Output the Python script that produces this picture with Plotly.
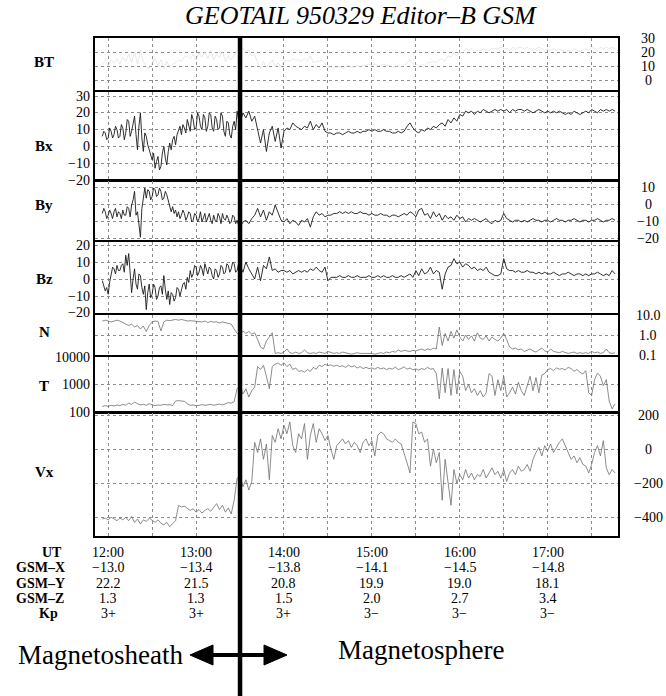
import numpy as np
import plotly.graph_objects as go

W, H = 666, 696

# ---------------- data ----------------
# minutes after 12:00 UT
t_min = np.arange(-4, 347, 2)                                            # plasma / BT samples (2 min)
t_bfield = np.concatenate([np.arange(-4, 90, 1), np.arange(90, 347, 2)])  # B components (1 min in sheath)

bt = [12, 14, 11, 15, 13, 16, 12, 17, 14, 19, 13, 21, 12, 22, 14,
      10, 9, 13, 16, 11, 15, 9, 14, 10, 12, 13, 15, 14, 17, 18,
      16, 19, 15, 20, 17, 21, 16, 22, 15, 19, 17, 21, 14, 18, 15,
      18, 22, 20, 23, 21, 22, 18, 19, 13, 9, 14, 10, 12, 15, 10,
      13, 10, 14, 15, 14, 16, 15, 15, 14, 16, 14, 18, 13, 14, 14,
      15, 12, 10, 10, 9, 10, 10, 9, 10, 11, 10, 10, 11, 10, 11,
      11, 12, 11, 12, 11, 11, 12, 11, 11, 10, 10, 11, 10, 11, 13,
      15, 12, 12, 10, 12, 11, 13, 13, 14, 13, 15, 16, 14, 18, 17,
      20, 18, 21, 20, 23, 22, 23, 21, 22, 22, 23, 22, 22, 23, 23,
      23, 24, 23, 23, 22, 24, 23, 24, 24, 23, 24, 23, 22, 23, 24,
      23, 22, 23, 22, 23, 22, 23, 22, 21, 22, 21, 23, 22, 21, 22,
      23, 22, 24, 23, 22, 24, 23, 24, 23, 24, 23]

bx = [6, 9, 8, 4, 5, 11, 9, 5, 7, 12,
      10, 5, 6, 13, 11, 4, 8, 16, 15, 6,
      9, 14, 18, 7, -2, 12, 20, 5, -3, 8,
      6, 1, -2, -5, -8, -4, -13, -9, -6, -14,
      -12, -4, 0, -7, -11, -3, 2, -2, 4, 6,
      1, 7, 9, 12, 7, 13, 11, 8, 16, 12,
      9, 19, 16, 10, 11, 20, 18, 12, 10, 19,
      17, 9, 12, 20, 19, 11, 9, 18, 16, 10,
      11, 20, 18, 9, 6, 15, 14, 7, 5, 12,
      15, 10, 21, 16,
      14, 20, 17, 21, 15, 18, 9, 2, 10, -3, 8, 12, 3,
      11, -1, 9, 11, 10, 14, 12, 11, 10, 12, 11, 15, 10, 13, 11,
      14, 9, 8, 8, 7, 8, 8, 7, 8, 9, 8, 8, 9, 8, 9,
      9, 10, 9, 10, 9, 9, 10, 9, 9, 8, 8, 9, 8, 9, 12,
      14, 11, 9, 8, 10, 9, 11, 10, 12, 11, 13, 14, 12, 16, 14,
      17, 15, 19, 18, 21, 20, 21, 19, 21, 20, 22, 21, 20, 21, 22,
      21, 22, 21, 22, 20, 22, 21, 22, 22, 21, 22, 21, 20, 21, 22,
      21, 20, 21, 20, 21, 20, 21, 20, 19, 20, 19, 21, 20, 19, 20,
      21, 20, 22, 21, 20, 22, 21, 22, 21, 22, 21]

by = [-5, -2, -4, -8, -6, -3, -5, -8, -4, -2,
      -7, -4, -5, -8, -3, -6, -6, -1, -2, -7,
      0, 3, 8, -6, -4, -10, -19, -2, 6, 10,
      4, 9, 8, 3, 5, 10, 9, 5, 6, 10,
      8, 3, 4, 8, 6, 2, 0, -4, -1, -5,
      -3, -7, -4, -8, -6, -3, -5, -9, -7, -4,
      -5, -10, -9, -5, -6, -10, -8, -4, -10, -7,
      -5, -10, -8, -5, -9, -11, -6, -9, -10, -5,
      -7, -11, -5, -8, -9, -6, -8, -11, -10, -6,
      -7, -11, -9, -12,
      -13, -10, -9, -11, -8, -6, -2, -7, -3, -9, -4, -6, 0,
      -5, -9, -10, -8, -11, -9, -10, -12, -9, -10, -8, -13, -7, -4, -6,
      -5, -7, -6, -6, -5, -5, -4, -5, -4, -5, -4, -5, -5, -4, -5,
      -5, -6, -5, -6, -6, -5, -6, -6, -7, -6, -6, -7, -6, -5, -6,
      -4, -5, -7, -3, -2, -6, -5, -8, -4, -7, -5, -9, -6, -8, -7,
      -9, -6, -8, -7, -10, -8, -9, -8, -9, -10, -9, -8, -10, -11, -9,
      -10, -9, -5, -8, -9, -10, -9, -9, -10, -9, -10, -9, -8, -9, -9,
      -10, -9, -9, -10, -9, -8, -9, -9, -10, -9, -9, -8, -9, -10, -9,
      -9, -10, -9, -9, -8, -9, -10, -9, -9, -8, -9]

bz = [-1, -4, -7, -5, -9, -2, 3, 7, 6, 3,
      8, 5, 5, 8, 9, 4, 14, 8, 15, 2,
      -8, 0, 6, -3, -6, 3, 2, -5, -9, -4,
      -18, -8, -3, -11, -9, -3, -5, -12, -10, -5,
      -4, -9, 2, -6, -12, -7, -15, -8, -9, -13,
      -11, -5, -6, -10, -7, -3, -2, -6, 1, -2,
      5, 1, 3, 8, 7, 2, 4, 8, 6, 2,
      9, 5, 3, 7, 6, 2, 0, 6, 5, 1,
      3, 8, 7, 3, 4, 9, 8, 4, 6, 10,
      9, 4, 5, 9,
      8, 4, 10, 6, 3, 0, 7, -1, 8, 6, 13, 5, 6,
      4, 5, 5, 4, 5, 3, 4, 5, 4, 5, 4, 6, 5, 7, 5,
      4, 7, -1, 1, 1, 1, 2, 1, 1, 2, 1, 1, 2, 1, 1,
      1, 2, 1, 1, 2, 1, 2, 1, 1, 2, 1, 1, 2, 1, 2,
      3, 1, 5, 2, 6, 3, 4, 7, 3, 5, 4, -6, 3, 7, 8,
      12, 9, 10, 7, 9, 8, 6, 7, 5, 6, 5, 7, 4, 3, 2,
      2, 3, 12, 6, 5, 5, 4, 5, 4, 4, 5, 4, 4, 3, 4,
      3, 4, 3, 3, 4, 3, 2, 3, 3, 4, 3, 2, 3, 3, 2,
      3, 2, 3, 3, 4, 3, 2, 3, 2, 5, 3]

dens = [5, 5.5, 5, 4.5, 5, 5.5, 5, 4, 3.5, 3, 3.5, 2.5, 3, 2, 2.8,
        1.5, 3, 4.5, 5, 4.8, 1.6, 4.5, 5.5, 5.2, 5.8, 6, 5.5, 6, 5.5, 5,
        5.2, 5, 4.8, 5, 4.5, 5, 4.2, 4.8, 4.4, 4.6, 4, 4.5, 4.2, 3.8, 3.5,
        2, 1.2, 1.0, 1.6, 1.2, 1.5, 1.1, 1.3, 0.6, 0.25, 0.2, 0.5, 0.8, 1.3, 0.12,
        0.13, 0.12, 0.14, 0.2, 0.13, 0.12, 0.14, 0.12, 0.13, 0.18, 0.13, 0.12, 0.13, 0.12, 0.14,
        0.13, 0.12, 0.15, 0.13, 0.12, 0.13, 0.12, 0.14, 0.13, 0.12, 0.11, 0.12, 0.13, 0.12, 0.12,
        0.12, 0.13, 0.12, 0.11, 0.12, 0.13, 0.12, 0.14, 0.13, 0.15, 0.14, 0.18, 0.15, 0.17, 0.16,
        0.15, 0.17, 0.16, 0.18, 0.2, 0.17, 0.2, 0.18, 0.22, 0.2, 2.5, 0.3, 1.2, 0.5, 1.5,
        0.7, 1.8, 0.8, 0.5, 1.0, 0.6, 0.9, 0.5, 1.3, 0.7, 0.6, 0.9, 0.5, 0.8, 0.6,
        0.5, 0.7, 1.2, 0.6, 0.25, 0.2, 0.22, 0.18, 0.2, 0.15, 0.17, 0.2, 0.16, 0.14, 0.18,
        0.22, 0.16, 0.14, 0.2, 0.15, 0.14, 0.13, 0.15, 0.14, 0.12, 0.13, 0.14, 0.12, 0.13, 0.12,
        0.13, 0.12, 0.15, 0.13, 0.14, 0.12, 0.13, 0.2, 0.13, 0.12, 0.13]

temp = [160, 170, 160, 175, 165, 180, 170, 190, 175, 210, 190, 230, 200, 180, 190,
        175, 200, 185, 170, 180, 175, 190, 180, 185, 170, 250, 260, 250, 245, 200,
        175, 180, 170, 175, 185, 175, 180, 190, 175, 185, 195, 180, 200, 220, 210,
        240, 700, 900, 450, 700, 350, 600, 800, 4500, 3500, 5000, 2000, 700, 4500, 5500,
        6000, 5000, 6200, 4500, 5500, 3500, 4000, 3000, 3200, 2800, 3500, 3000, 4200, 3600, 5000,
        4500, 5500, 4800, 5200, 4600, 5000, 4500, 4800, 4200, 5000, 4400, 4800, 4000, 4500, 3800,
        4200, 3800, 4000, 3600, 4200, 3700, 4000, 3500, 3900, 3600, 4300, 3500, 3800, 4400, 3600,
        4000, 3400, 3700, 3300, 3800, 3500, 4200, 3600, 3800, 2500, 300, 4000, 500, 3800, 400,
        3500, 450, 3000, 2000, 600, 1000, 500, 700, 400, 600, 350, 500, 2500, 2000, 400,
        1500, 600, 2000, 350, 500, 800, 450, 1200, 600, 400, 900, 2000, 600, 1800, 500,
        2200, 2500, 3500, 3800, 3200, 4000, 3600, 3800, 3400, 4200, 3800, 3000, 3500, 2800, 2400,
        3200, 500, 400, 1500, 2600, 2000, 900, 1500, 250, 130, 200]

vx = [-410, -405, -415, -400, -410, -420, -405, -415, -400, -420, -395, -430, -410, -440, -415,
      -425, -405, -420, -430, -415, -435, -445, -430, -455, -440, -420, -330, -340, -335, -345,
      -360, -350, -370, -355, -375, -360, -350, -365, -340, -320, -355, -330, -370, -345, -380,
      -300, -170, -160, -220, -180, -240, -190, 40, -20, 60, -60, 30, -180, 80, 40,
      120, 60, 140, 90, 160, 20, -20, 90, 60, 150, -60, 80, 150, 40, 120,
      90, 50, 80, 0, -60, 20, 40, 60, 30, 50, 10, 40, 20, -20, 40,
      60, 20, 50, -40, 80, 100, 90, 60, 50, 40, 60, 40, 30, -20, -80,
      -140, 160, 150, 90, 100, 40, 60, -100, 0, -80, -20, -300, -60, -200, -330,
      -120, -200, -150, -180, -120, -170, -140, -180, -150, -160, -120, -170, -140, -110, -150,
      -130, -170, -120, -190, -140, -120, -150, -100, -130, -120, -90, -130, -60, -20, 10,
      -40, 20, -10, 30, -20, 10, 40, 60, 20, -30, -60, -40, -80, -50, -90,
      -100, -140, -90, -20, 20, -40, 50, -110, -150, -120, -140]

panel_names = ["BT", "Bx", "By", "Bz", "N", "T", "Vx"]

bt_ticks = [0, 10, 20, 30]
bx_ticks = [-20, -10, 0, 10, 20, 30]
by_ticks = [-20, -10, 0, 10]
bz_ticks = [-20, -10, 0, 10, 20]
n_ticks = [0.1, 1.0, 10.0]
n_tick_text = ["0.1", "1.0", "10.0"]
t_ticks = [100, 1000, 10000]
vx_ticks = [-400, -200, 0, 200]

ut_labels = ["12:00", "13:00", "14:00", "15:00", "16:00", "17:00"]
ut_minutes = [0, 60, 120, 180, 240, 300]
gsm_x = ["−13.0", "−13.4", "−13.8", "−14.1", "−14.5", "−14.8"]
gsm_y = ["22.2", "21.5", "20.8", "19.9", "19.0", "18.1"]
gsm_z = ["1.3", "1.3", "1.5", "2.0", "2.7", "3.4"]
kp = ["3+", "3+", "3+", "3−", "3−", "3−"]
crossing_minute = 90

# ---------------- layout helpers ----------------
FONT = "Liberation Serif"


def pxx(p):
    return p / W


def pyy(p):
    return 1 - p / H


def fmt(v):
    s = str(int(v)) if float(v).is_integer() else str(v)
    return s.replace("-", "−")


# (time, values, pixel top, pixel bottom, range, log?, ticks, tick text, side, colour, width)
panels = [
    (t_min, bt, 38, 90, [-6.5, 30.7], False, bt_ticks, None, "right", "#d9d9d9", 0.6),
    (t_bfield, bx, 92, 180, [-20, 32.4], False, bx_ticks, None, "left", "#1a1a1a", 0.9),
    (t_bfield, by, 181, 240, [-20.6, 14.1], False, by_ticks, None, "right", "#1a1a1a", 0.9),
    (t_bfield, bz, 242, 313, [-20, 21.8], False, bz_ticks, None, "left", "#1a1a1a", 0.9),
    (t_min, dens, 315, 355, [-1, 1], True, n_ticks, n_tick_text, "right", "#6e6e6e", 0.8),
    (t_min, temp, 357, 412, [2, 4], True, t_ticks, None, "left", "#6e6e6e", 0.8),
    (t_min, vx, 413, 536, [-510, 212], False, vx_ticks, None, "right", "#6e6e6e", 0.8),
]
label_y = [62, 146, 205, 279, 332, 386, 472]

fig = go.Figure()
annotations = []
layout = dict(
    width=W, height=H, margin=dict(l=0, r=0, t=0, b=0),
    paper_bgcolor="white", plot_bgcolor="white", showlegend=False,
    font=dict(family=FONT, color="black"),
)

for i, (tt, vals, top, bot, rng, islog, ticks, ttext, side, col, lw) in enumerate(panels, start=1):
    xid = "x" if i == 1 else f"x{i}"
    yid = "y" if i == 1 else f"y{i}"
    xname = "xaxis" if i == 1 else f"xaxis{i}"
    yname = "yaxis" if i == 1 else f"yaxis{i}"
    fig.add_trace(go.Scatter(x=tt, y=vals, mode="lines", xaxis=xid, yaxis=yid,
                             line=dict(color=col, width=lw), hoverinfo="skip"))
    layout[xname] = dict(domain=[pxx(95), pxx(618)], range=[-9, 348], anchor=yid,
                         tickmode="linear", tick0=0, dtick=30, showgrid=True,
                         gridcolor="#8c8c8c", griddash="dot", gridwidth=1,
                         showticklabels=False, ticks="", showline=True, mirror=True,
                         linecolor="black", linewidth=1.6, zeroline=False)
    layout[yname] = dict(domain=[pyy(bot), pyy(top)], range=rng, anchor=xid,
                         type="log" if islog else "linear",
                         tickmode="array", tickvals=ticks, showticklabels=False, ticks="",
                         showgrid=True, gridcolor="#8c8c8c", griddash="dot", gridwidth=1,
                         showline=True, mirror=True, linecolor="black", linewidth=1.6,
                         zeroline=False)
    texts = ttext if ttext else [fmt(v) for v in ticks]
    for v, s in zip(ticks, texts):
        yv = np.log10(v) if islog else v
        if side == "left":
            annotations.append(dict(x=pxx(92), y=yv, xref="paper", yref=yid, text=s,
                                    showarrow=False, xanchor="right", yanchor="middle",
                                    font=dict(size=14, family=FONT, color="black")))
        else:
            annotations.append(dict(x=pxx(648), y=yv, xref="paper", yref=yid, text=s,
                                    showarrow=False, xanchor="center", yanchor="middle",
                                    font=dict(size=14, family=FONT, color="black")))
    annotations.append(dict(x=pxx(44), y=pyy(label_y[i - 1]), xref="paper", yref="paper",
                            text=f"<b>{panel_names[i - 1]}</b>", showarrow=False,
                            xanchor="center", yanchor="middle",
                            font=dict(size=15, family=FONT, color="black")))

# title
annotations.append(dict(x=pxx(361), y=pyy(16), xref="paper", yref="paper",
                        text="<i>GEOTAIL 950329 Editor–B GSM</i>", showarrow=False,
                        xanchor="center", yanchor="middle",
                        font=dict(size=26, family=FONT, color="black")))

# table under the plot
rows = [("UT", ut_labels, 552, 52), ("GSM–X", gsm_x, 567, 40), ("GSM–Y", gsm_y, 583, 40),
        ("GSM–Z", gsm_z, 598, 40), ("Kp", kp, 613, 48)]
for name, vals, ypix, xl in rows:
    annotations.append(dict(x=pxx(xl), y=pyy(ypix), xref="paper", yref="paper",
                            text=f"<b>{name}</b>", showarrow=False, xanchor="center",
                            yanchor="middle", font=dict(size=14, family=FONT, color="black")))
    for m, s in zip(ut_minutes, vals):
        annotations.append(dict(x=m, y=pyy(ypix), xref="x7", yref="paper", text=s,
                                showarrow=False, xanchor="center", yanchor="middle",
                                font=dict(size=14, family=FONT, color="black")))

annotations.append(dict(x=pxx(100), y=pyy(655), xref="paper", yref="paper",
                        text="Magnetosheath", showarrow=False, xanchor="center",
                        yanchor="middle", font=dict(size=27, family=FONT, color="black")))
annotations.append(dict(x=pxx(421), y=pyy(650), xref="paper", yref="paper",
                        text="Magnetosphere", showarrow=False, xanchor="center",
                        yanchor="middle", font=dict(size=27, family=FONT, color="black")))

shapes = [
    dict(type="line", xref="x", yref="paper", x0=crossing_minute, x1=crossing_minute,
         y0=pyy(38), y1=0, line=dict(color="black", width=4.5)),
    dict(type="line", xref="paper", yref="paper", x0=pxx(208), x1=pxx(270),
         y0=pyy(655), y1=pyy(655), line=dict(color="black", width=4)),
    dict(type="path", xref="paper", yref="paper", fillcolor="black", line=dict(color="black", width=1),
         path=f"M {pxx(190)} {pyy(655)} L {pxx(213)} {pyy(645)} L {pxx(213)} {pyy(665)} Z"),
    dict(type="path", xref="paper", yref="paper", fillcolor="black", line=dict(color="black", width=1),
         path=f"M {pxx(287)} {pyy(655)} L {pxx(264)} {pyy(645)} L {pxx(264)} {pyy(665)} Z"),
]

layout["annotations"] = annotations
layout["shapes"] = shapes
fig.update_layout(**layout)
fig.write_html("out.html", config={"displayModeBar": False},
               post_script="document.body.style.margin='0';document.body.style.overflow='hidden';")
